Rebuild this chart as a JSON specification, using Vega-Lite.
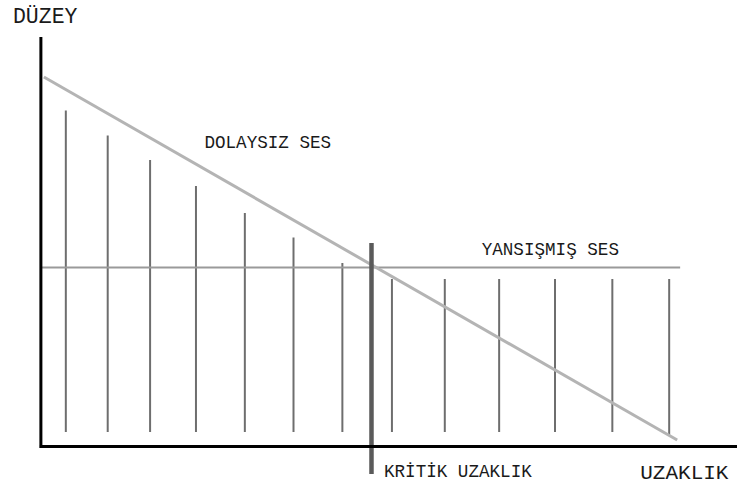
{
  "$schema": "https://vega.github.io/schema/vega-lite/v6.json",
  "width": 739,
  "height": 485,
  "padding": 0,
  "autosize": {"type": "fit", "contains": "padding"},
  "background": "white",
  "config": {"view": {"stroke": null}},
  "datasets": {
    "frame": [
      {"part": "left", "x": 41, "y": 37, "x2": 41, "y2": 448},
      {"part": "bottom", "x": 40, "y": 38.5, "x2": 739, "y2": 38.5}
    ],
    "bars": [
      {"x": 66, "top": 374.5, "bottom": 53},
      {"x": 108, "top": 349.5, "bottom": 53},
      {"x": 150.5, "top": 325, "bottom": 53},
      {"x": 196.5, "top": 299, "bottom": 53},
      {"x": 245.5, "top": 272, "bottom": 53},
      {"x": 294.3, "top": 247.5, "bottom": 53},
      {"x": 343.3, "top": 222, "bottom": 53},
      {"x": 393, "top": 206, "bottom": 53},
      {"x": 446, "top": 206, "bottom": 53},
      {"x": 500.5, "top": 206, "bottom": 53},
      {"x": 556.5, "top": 206, "bottom": 53},
      {"x": 614, "top": 206, "bottom": 53},
      {"x": 671, "top": 206, "bottom": 50}
    ],
    "direct": [
      {"x": 44, "y": 408, "x2": 679, "y2": 45}
    ],
    "reflected": [
      {"x": 42, "y": 217.5, "x2": 682, "y2": 217.5}
    ],
    "critical": [
      {"x": 372.5, "y": 242, "x2": 372.5, "y2": 11}
    ],
    "labels": [
      {"label": "DÜZEY", "x": 13, "y": 462, "size": 21.5},
      {"label": "DOLAYSIZ SES", "x": 205, "y": 337, "size": 17.6},
      {"label": "YANSIŞMIŞ SES", "x": 483, "y": 230, "size": 17.6},
      {"label": "KRİTİK UZAKLIK", "x": 385, "y": 8, "size": 17.6},
      {"label": "UZAKLIK", "x": 642, "y": 6, "size": 21}
    ]
  },
  "layer": [
    {
      "data": {"name": "bars"},
      "mark": {"type": "rule", "color": "#6e6e6e", "strokeWidth": 2},
      "encoding": {
        "x": {"field": "x", "type": "quantitative", "scale": {"domain": [0, 739], "nice": false, "zero": false}, "axis": null},
        "y": {"field": "top", "type": "quantitative", "scale": {"domain": [0, 485], "nice": false, "zero": false}, "axis": null},
        "y2": {"field": "bottom"}
      }
    },
    {
      "data": {"name": "reflected"},
      "mark": {"type": "rule", "color": "#9a9a9a", "strokeWidth": 2},
      "encoding": {
        "x": {"field": "x", "type": "quantitative"},
        "y": {"field": "y", "type": "quantitative"},
        "x2": {"field": "x2"},
        "y2": {"field": "y2"}
      }
    },
    {
      "data": {"name": "direct"},
      "mark": {"type": "rule", "color": "#b4b4b4", "strokeWidth": 3},
      "encoding": {
        "x": {"field": "x", "type": "quantitative"},
        "y": {"field": "y", "type": "quantitative"},
        "x2": {"field": "x2"},
        "y2": {"field": "y2"}
      }
    },
    {
      "data": {"name": "critical"},
      "mark": {"type": "rule", "color": "#5a5a5a", "strokeWidth": 4.5},
      "encoding": {
        "x": {"field": "x", "type": "quantitative"},
        "y": {"field": "y", "type": "quantitative"},
        "x2": {"field": "x2"},
        "y2": {"field": "y2"}
      }
    },
    {
      "data": {"name": "frame"},
      "mark": {"type": "rule", "color": "#000000", "strokeWidth": 3},
      "encoding": {
        "x": {"field": "x", "type": "quantitative"},
        "y": {"field": "y", "type": "quantitative"},
        "x2": {"field": "x2"},
        "y2": {"field": "y2"}
      }
    },
    {
      "data": {"name": "labels"},
      "mark": {"type": "text", "align": "left", "baseline": "alphabetic", "font": "Liberation Mono", "color": "#1a1a1a"},
      "encoding": {
        "x": {"field": "x", "type": "quantitative"},
        "y": {"field": "y", "type": "quantitative"},
        "text": {"field": "label"},
        "size": {"field": "size", "type": "quantitative", "scale": null}
      }
    }
  ]
}
